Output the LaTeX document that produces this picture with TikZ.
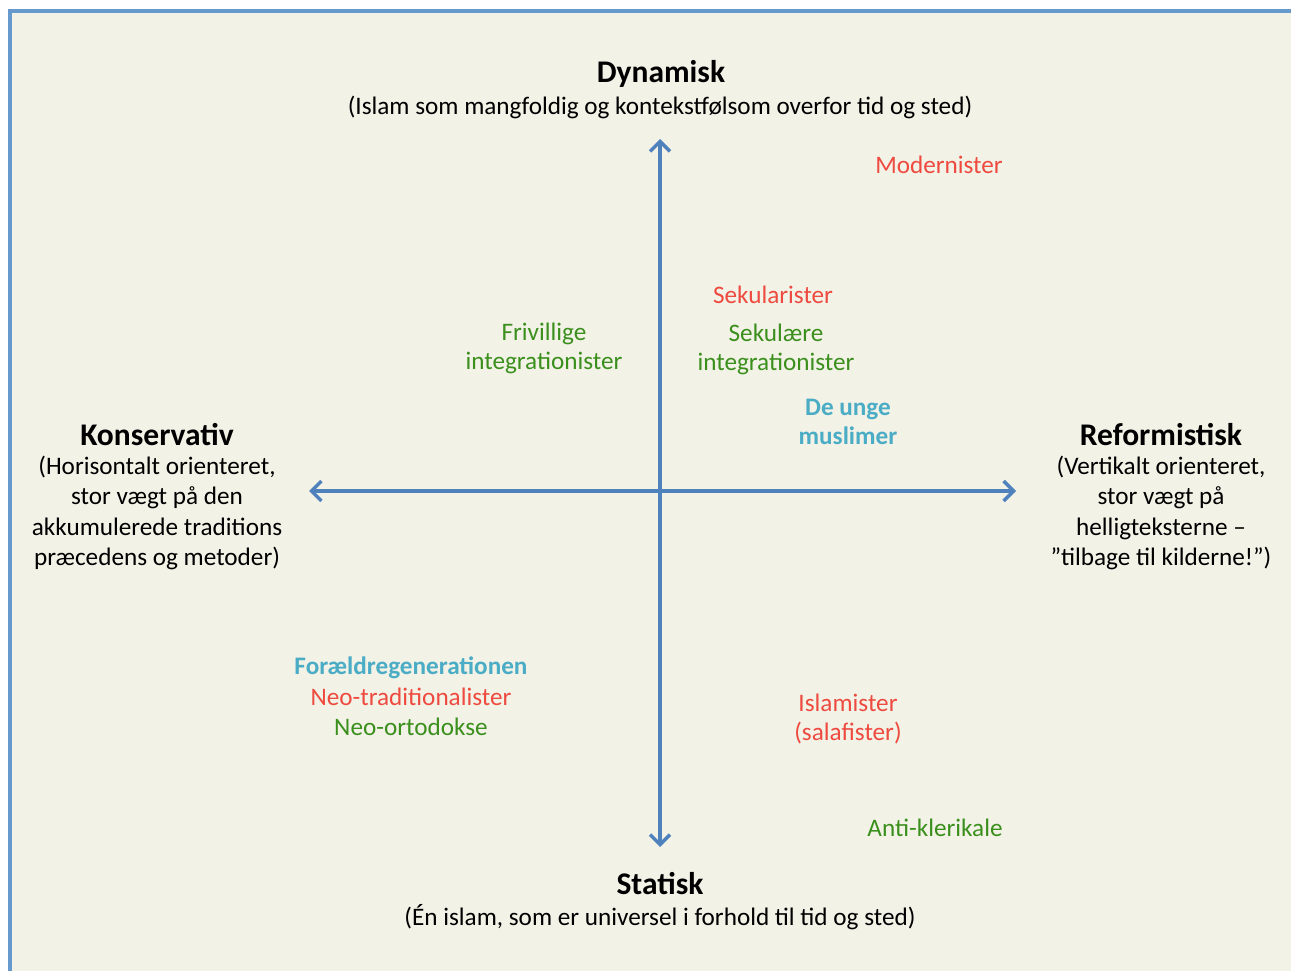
\documentclass[tikz,border=0pt]{standalone}
\usepackage{fontspec}
\setmainfont{Carlito}
\usepackage{tikz}
\usetikzlibrary{arrows.meta,positioning}
\usepackage{xcolor}
\definecolor{axisblue}{HTML}{4F81BD}
\definecolor{frameblue}{HTML}{6699CC}
\definecolor{paper}{HTML}{F2F2E7}
\definecolor{labred}{HTML}{EE4A3F}
\definecolor{labgreen}{HTML}{3B8F1C}
\definecolor{labcyan}{HTML}{4BACC6}
\tikzset{
  pole/.style={font=\fontsize{31.5}{36}\selectfont\bfseries, inner sep=0pt, align=center},
  polesub/.style={font=\fontsize{25.2}{30.6}\selectfont, inner sep=0pt, align=center},
  grp/.style={font=\fontsize{25.2}{29}\selectfont, inner sep=0pt, align=center},
  red/.style={grp, text=labred},
  green/.style={grp, text=labgreen},
  cyan/.style={grp, text=labcyan, font=\fontsize{25.2}{29}\selectfont\bfseries},
  axis/.style={{Straight Barb[length=10pt,width=20pt]}-{Straight Barb[length=10pt,width=20pt]},
               line width=3.5pt, draw=axisblue},
}
\begin{document}
\begin{tikzpicture}[x=1pt, y=-1pt]
\useasboundingbox (0,0) rectangle (1291,971);
\fill[paper] (10,11) rectangle (1291,971);
\draw[frameblue, line width=4pt] (10,971) -- (10,11) -- (1291,11);
% axes
\coordinate (top) at (660,139);
\coordinate (bottom) at (660,847);
\coordinate (left) at (309,491);
\coordinate (right) at (1016,491);
\draw[axis] (top) -- (bottom);
\draw[axis] (left) -- (right);
% poles
\node[pole] (dyn) at (661,74) {Dynamisk};
\node[polesub] (dynsub) at (660,107) {(Islam som mangfoldig og kontekstfølsom overfor tid og sted)};
\node[pole] (stat) at (660,884) {Statisk};
\node[polesub] (statsub) at (660,917) {(Én islam, som er universel i forhold til tid og sted)};
\node[pole] (kons) at (157,435) {Konservativ};
\node[polesub] (konssub) at (157,513) {(Horisontalt orienteret,\\stor vægt på den\\akkumulerede traditions\\præcedens og metoder)};
\node[pole] (ref) at (1161,435) {Reformistisk};
\node[polesub] (refsub) at (1161,513) {(Vertikalt orienteret,\\stor vægt på\\helligteksterne –\\”tilbage til kilderne!”)};
% groups
\node[red] (mod) at (939,165) {Modernister};
\node[red] (sekist) at (773,295) {Sekularister};
\node[green] (sekint) at (776,349) {Sekulære\\integrationister};
\node[green] (friv) at (544,348) {Frivillige\\integrationister};
\node[cyan] (unge) at (848,422) {De unge\\muslimer};
\node[cyan] (foraeld) at (411,668) {Forældregenerationen};
\node[red] (neotrad) at (411,697) {Neo-traditionalister};
\node[green] (neoort) at (411,727) {Neo-ortodokse};
\node[red] (islam) at (848,719) {Islamister\\(salafister)};
\node[green] (anti) at (935,828) {Anti-klerikale};
\end{tikzpicture}
\end{document}
